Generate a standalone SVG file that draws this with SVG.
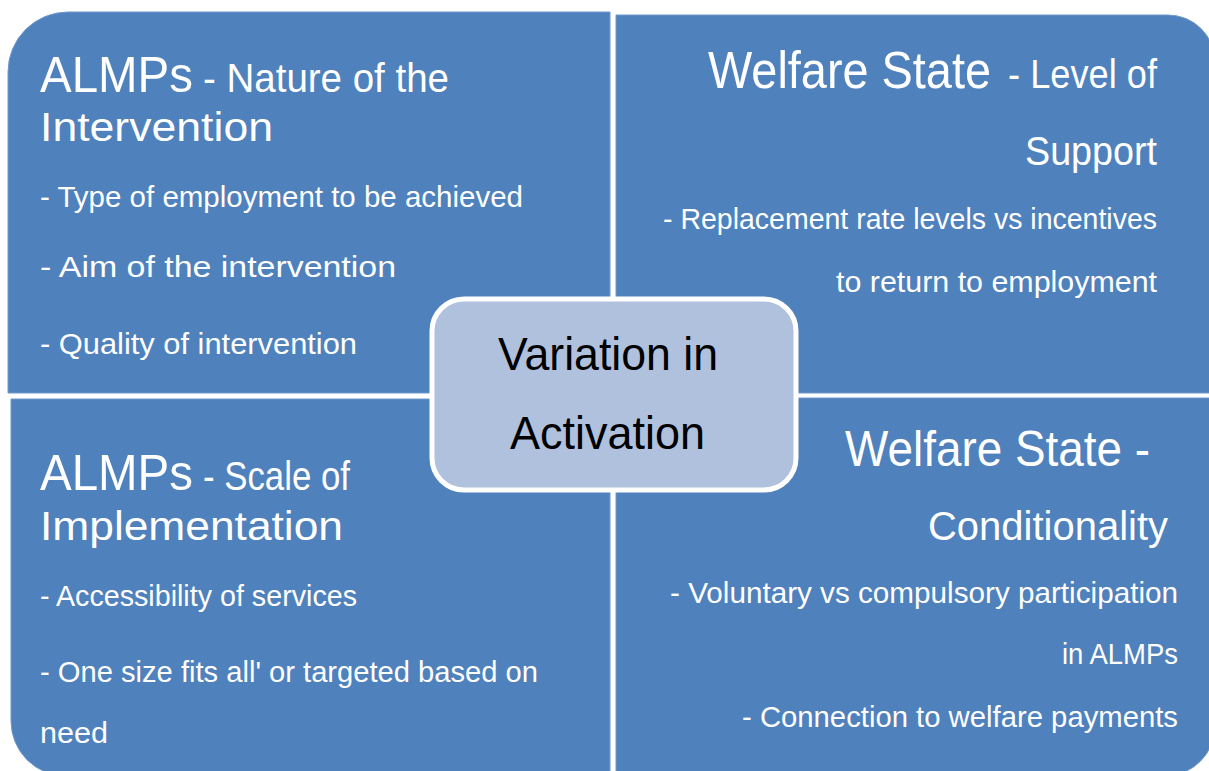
<svg xmlns="http://www.w3.org/2000/svg" width="1209" height="771" viewBox="0 0 1209 771">
<style>
.q{fill:#4F81BD;stroke:#7398CB;stroke-width:1}
.w{fill:#FFFFFF;font-family:"Liberation Sans",Arial,sans-serif}
.c{fill:#000000;font-family:"Liberation Sans",Arial,sans-serif}
.big{font-size:50px}
.mid{font-size:40px}
.sm{font-size:29px}
</style>
<rect width="1209" height="771" fill="#FFFFFF"/>
<g id="q-tl">
<path class="q" d="M8,72 A60,60 0 0 1 68,12 H610 V393 H8 Z"/>
<text class="w big" x="40" y="92" textLength="153" lengthAdjust="spacingAndGlyphs">ALMPs</text>
<text class="w mid" x="203" y="92" textLength="246" lengthAdjust="spacingAndGlyphs">- Nature of the</text>
<text class="w mid" x="40" y="141" textLength="233" lengthAdjust="spacingAndGlyphs">Intervention</text>
<text class="w sm" x="40" y="207" textLength="483" lengthAdjust="spacingAndGlyphs">- Type of employment to be achieved</text>
<text class="w sm" x="40" y="277" textLength="356" lengthAdjust="spacingAndGlyphs">- Aim of the intervention</text>
<text class="w sm" x="40" y="354" textLength="317" lengthAdjust="spacingAndGlyphs">- Quality of intervention</text>
</g>
<g id="q-tr">
<path class="q" d="M616,15 H1168 A47,47 0 0 1 1215,62 V393 H616 Z"/>
<text class="w" font-size="52" x="708" y="88" textLength="283" lengthAdjust="spacingAndGlyphs">Welfare State</text>
<text class="w mid" x="1008" y="88" textLength="149" lengthAdjust="spacingAndGlyphs">- Level of</text>
<text class="w mid" x="1025" y="165" textLength="132" lengthAdjust="spacingAndGlyphs">Support</text>
<text class="w sm" x="663" y="229" textLength="494" lengthAdjust="spacingAndGlyphs">- Replacement rate levels vs incentives</text>
<text class="w sm" x="836" y="292" textLength="321" lengthAdjust="spacingAndGlyphs">to return to employment</text>
</g>
<g id="q-bl">
<path class="q" d="M11,399 H610 V776 H66 A55,55 0 0 1 11,721 Z"/>
<text class="w big" x="40" y="490" textLength="153" lengthAdjust="spacingAndGlyphs">ALMPs</text>
<text class="w mid" x="203" y="490" textLength="147" lengthAdjust="spacingAndGlyphs">- Scale of</text>
<text class="w mid" x="40" y="540" textLength="303" lengthAdjust="spacingAndGlyphs">Implementation</text>
<text class="w sm" x="40" y="606" textLength="317" lengthAdjust="spacingAndGlyphs">- Accessibility of services</text>
<text class="w sm" x="40" y="682" textLength="498" lengthAdjust="spacingAndGlyphs">-  One size fits all' or targeted based on</text>
<text class="w sm" x="40" y="743" textLength="68" lengthAdjust="spacingAndGlyphs">need</text>
</g>
<g id="q-br">
<path class="q" d="M616,398 H1215 V726 A50,50 0 0 1 1165,776 H616 Z"/>
<text class="w big" x="845" y="466" textLength="305" lengthAdjust="spacingAndGlyphs">Welfare State -</text>
<text class="w mid" x="928" y="540" textLength="240" lengthAdjust="spacingAndGlyphs">Conditionality</text>
<text class="w sm" x="670" y="603" textLength="508" lengthAdjust="spacingAndGlyphs">- Voluntary vs compulsory participation</text>
<text class="w sm" x="1062" y="664" textLength="116" lengthAdjust="spacingAndGlyphs">in ALMPs</text>
<text class="w sm" x="742" y="727" textLength="436" lengthAdjust="spacingAndGlyphs">- Connection to welfare payments</text>
</g>
<g id="center">
<rect x="432" y="299" width="364" height="191" rx="32" ry="32" fill="#B0C1DD" stroke="#FFFFFF" stroke-width="5"/>
<text class="c" font-size="46" x="498" y="370" textLength="220" lengthAdjust="spacingAndGlyphs">Variation in</text>
<text class="c" font-size="46" x="510" y="449" textLength="195" lengthAdjust="spacingAndGlyphs">Activation</text>
</g>
<g id="connectors"></g>
</svg>
